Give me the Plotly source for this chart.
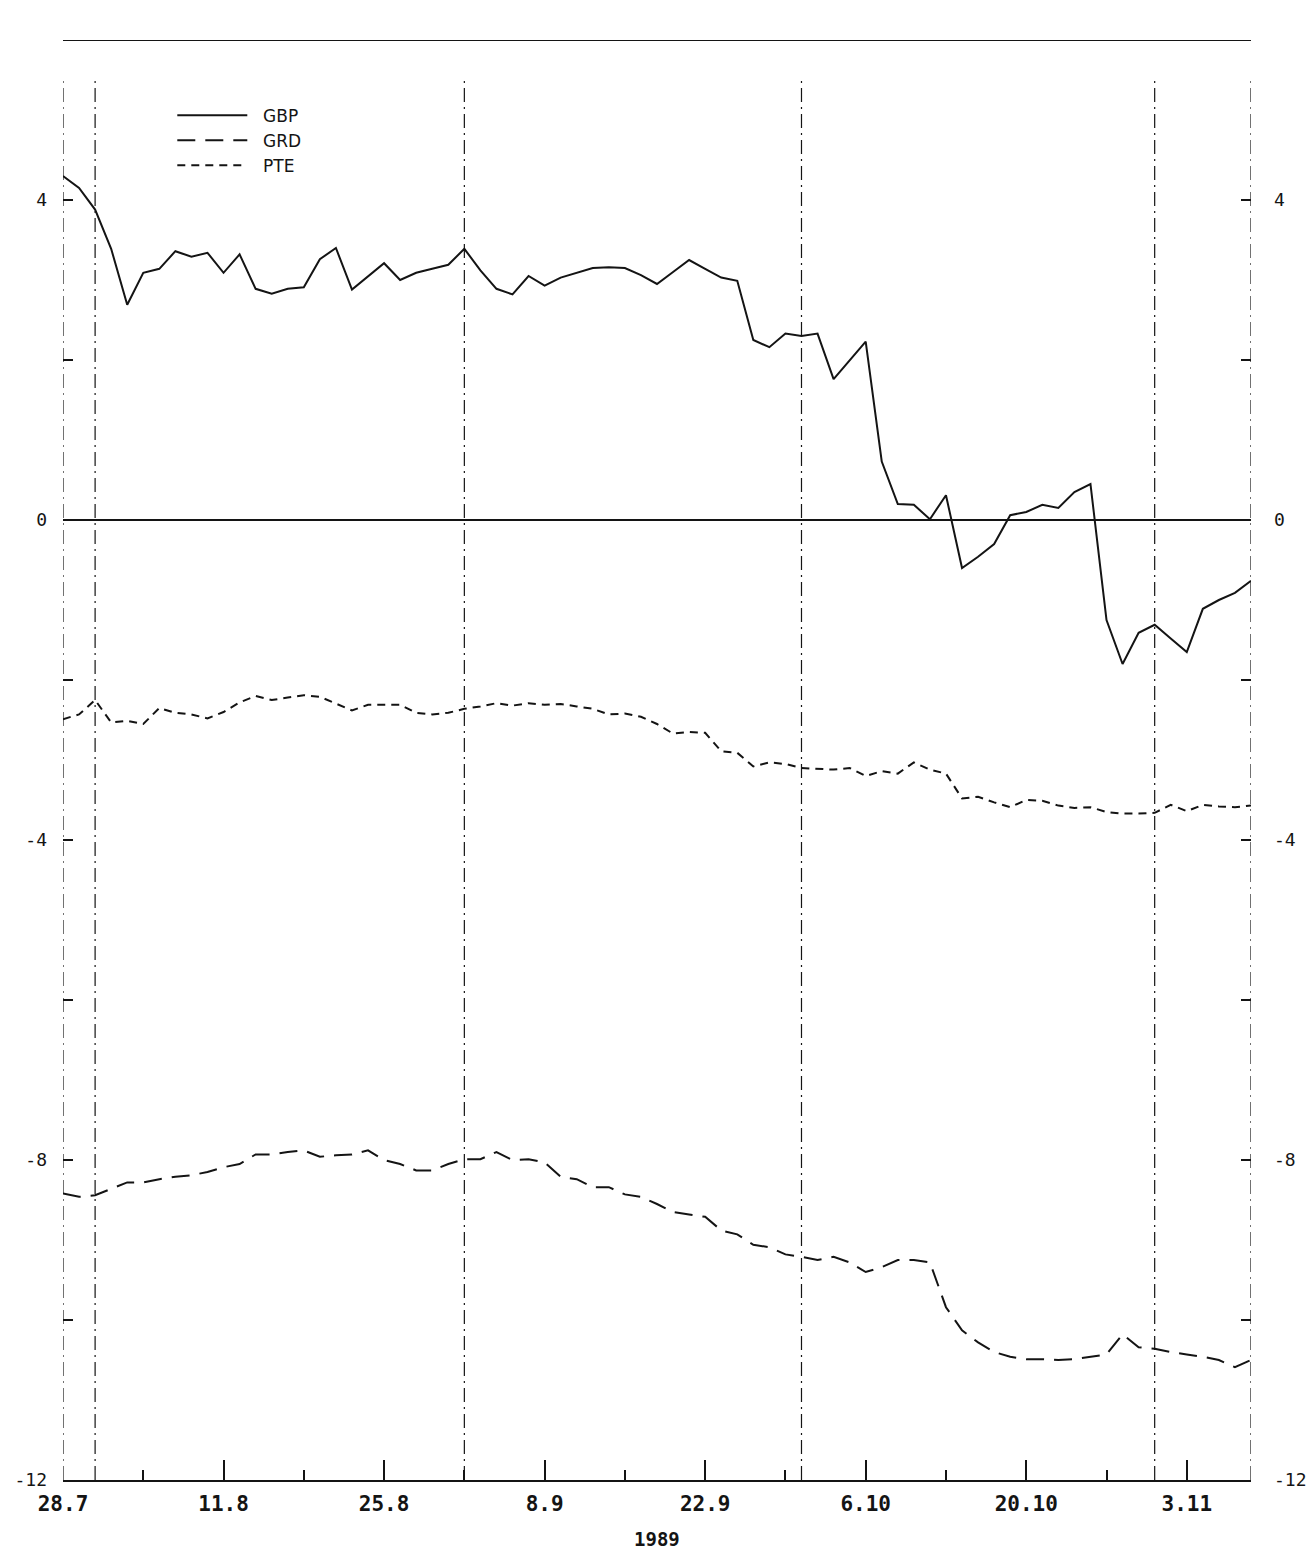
import pandas as pd
import plotly.graph_objects as go

# ---------------- data ----------------
dates = pd.bdate_range("1989-07-28", periods=75)

gbp = [4.30, 4.15, 3.88, 3.39, 2.69, 3.09, 3.14, 3.36, 3.29, 3.34,
       3.09, 3.32, 2.89, 2.83, 2.89, 2.91, 3.26, 3.40, 2.88, 3.05,
       3.21, 3.00, 3.09, 3.14, 3.19, 3.39, 3.12, 2.89, 2.82, 3.05,
       2.93, 3.03, 3.09, 3.15, 3.16, 3.15, 3.06, 2.95, 3.10, 3.25,
       3.14, 3.03, 2.99, 2.25, 2.16, 2.33, 2.30, 2.33, 1.76, 1.99,
       2.23, 0.73, 0.20, 0.19, 0.01, 0.31, -0.60, -0.46, -0.30, 0.06,
       0.10, 0.19, 0.15, 0.35, 0.45, -1.25, -1.80, -1.41, -1.31, -1.48,
       -1.65, -1.11, -1.00, -0.91, -0.76]

grd = [-8.42, -8.46, -8.44, -8.36, -8.28, -8.28, -8.24, -8.21, -8.19, -8.15,
       -8.09, -8.05, -7.93, -7.93, -7.90, -7.88, -7.96, -7.94, -7.93, -7.88,
       -8.00, -8.05, -8.13, -8.13, -8.05, -7.99, -7.99, -7.90, -8.00, -7.99,
       -8.03, -8.21, -8.24, -8.34, -8.34, -8.43, -8.46, -8.55, -8.65, -8.68,
       -8.71, -8.88, -8.93, -9.06, -9.09, -9.18, -9.21, -9.25, -9.21, -9.28,
       -9.40, -9.34, -9.25, -9.25, -9.28, -9.84, -10.13, -10.28, -10.40, -10.46,
       -10.49, -10.49, -10.50, -10.49, -10.46, -10.43, -10.18, -10.34, -10.36, -10.40,
       -10.43, -10.46, -10.50, -10.59, -10.50]

pte = [-2.49, -2.43, -2.25, -2.53, -2.51, -2.55, -2.35, -2.41, -2.43, -2.48,
       -2.40, -2.28, -2.20, -2.25, -2.22, -2.19, -2.21, -2.30, -2.38, -2.31,
       -2.31, -2.31, -2.41, -2.43, -2.41, -2.36, -2.33, -2.29, -2.32, -2.29,
       -2.31, -2.30, -2.33, -2.36, -2.43, -2.42, -2.46, -2.55, -2.67, -2.65,
       -2.66, -2.89, -2.91, -3.08, -3.03, -3.05, -3.10, -3.11, -3.12, -3.10,
       -3.20, -3.14, -3.17, -3.03, -3.12, -3.17, -3.48, -3.46, -3.53, -3.59,
       -3.50, -3.51, -3.57, -3.60, -3.59, -3.65, -3.67, -3.67, -3.66, -3.56,
       -3.64, -3.56, -3.58, -3.59, -3.57]

series_names = ["GBP", "GRD", "PTE"]
y_tick_values = [-12, -10, -8, -6, -4, -2, 0, 2, 4]
y_tick_labels = ["-12", "", "-8", "", "-4", "", "0", "", "4"]
x_title = "1989"

# ---------------- derived ----------------
x = list(range(len(dates)))
major_idx = list(range(0, len(dates), 10))
major_labels = [f"{dates[i].day}.{dates[i].month}" for i in major_idx]
minor_idx = list(range(5, len(dates), 10))
month_idx = [i for i in range(1, len(dates)) if dates[i].month != dates[i - 1].month]

INK = "#141414"
fig = go.Figure()

styles = {"GBP": "solid", "GRD": "18px,10px", "PTE": "8px,6px"}
axes_for = {"GBP": "y", "GRD": "y2", "PTE": "y"}
for name, vals in zip(series_names, [gbp, grd, pte]):
    fig.add_trace(go.Scatter(
        x=x, y=vals, mode="lines", name="\u00a0\u00a0" + name, yaxis=axes_for[name],
        line=dict(color=INK, width=2, dash=styles[name]),
    ))

# month-start dash-dot verticals and frame sides
shapes = []
for i in month_idx + [0, len(dates) - 1]:
    shapes.append(dict(type="line", xref="x", yref="y", x0=i, x1=i, y0=-12, y1=5.55,
                       line=dict(color=INK, width=1.2, dash="14px,5px,2px,5px")))
# top frame line
shapes.append(dict(type="line", xref="x", yref="y", x0=0, x1=len(dates) - 1, y0=6, y1=6,
                   line=dict(color=INK, width=2)))

fig.update_layout(
    width=1315, height=1550,
    margin=dict(l=63, r=64, t=40, b=70, autoexpand=False),
    paper_bgcolor="white", plot_bgcolor="white",
    shapes=shapes,
    showlegend=True,
    legend=dict(x=0.092, y=0.96, xanchor="left", yanchor="top",
                bgcolor="rgba(0,0,0,0)", itemwidth=70,
                font=dict(family="DejaVu Sans", size=17, color=INK),
                tracegroupgap=0),
    font=dict(family="DejaVu Sans Mono", color=INK),
    annotations=[dict(text=x_title, xref="paper", yref="paper", x=0.5, y=0,
                      xanchor="center", yanchor="top", yshift=-46, showarrow=False,
                      font=dict(family="DejaVu Sans Mono", size=19, color=INK, weight="bold"))],
)

fig.update_xaxes(
    range=[0, len(dates) - 1], automargin=False,
    tickmode="array", tickvals=major_idx, ticktext=major_labels,
    ticks="inside", ticklen=20, tickwidth=1.5, tickcolor=INK,
    minor=dict(tickmode="array", tickvals=minor_idx, ticks="inside", ticklen=10,
               tickwidth=1.5, tickcolor=INK, showgrid=False),
    showline=True, linecolor=INK, linewidth=2,
    showgrid=False, zeroline=False,
    ticklabelstandoff=4,
    tickfont=dict(family="DejaVu Sans Mono", size=21, color=INK, weight="bold"),
)

fig.update_layout(
    yaxis=dict(
        range=[-12, 6], automargin=False,
        tickmode="array", tickvals=y_tick_values, ticktext=y_tick_labels,
        ticks="inside", ticklen=10, tickwidth=1.5, tickcolor=INK,
        showline=False, showgrid=False,
        zeroline=True, zerolinecolor=INK, zerolinewidth=2,
        ticklabelstandoff=15,
        tickfont=dict(family="DejaVu Sans Mono", size=18, color=INK),
    ),
    yaxis2=dict(
        matches="y", overlaying="y", side="right", anchor="x", automargin=False,
        tickmode="array", tickvals=y_tick_values, ticktext=y_tick_labels,
        ticks="inside", ticklen=10, tickwidth=1.5, tickcolor=INK,
        showline=False, showgrid=False, zeroline=False,
        ticklabelstandoff=22,
        tickfont=dict(family="DejaVu Sans Mono", size=18, color=INK),
    ),
)

fig.write_html("out.html", config={"displayModeBar": False},
               post_script="document.body.style.margin='0';")
